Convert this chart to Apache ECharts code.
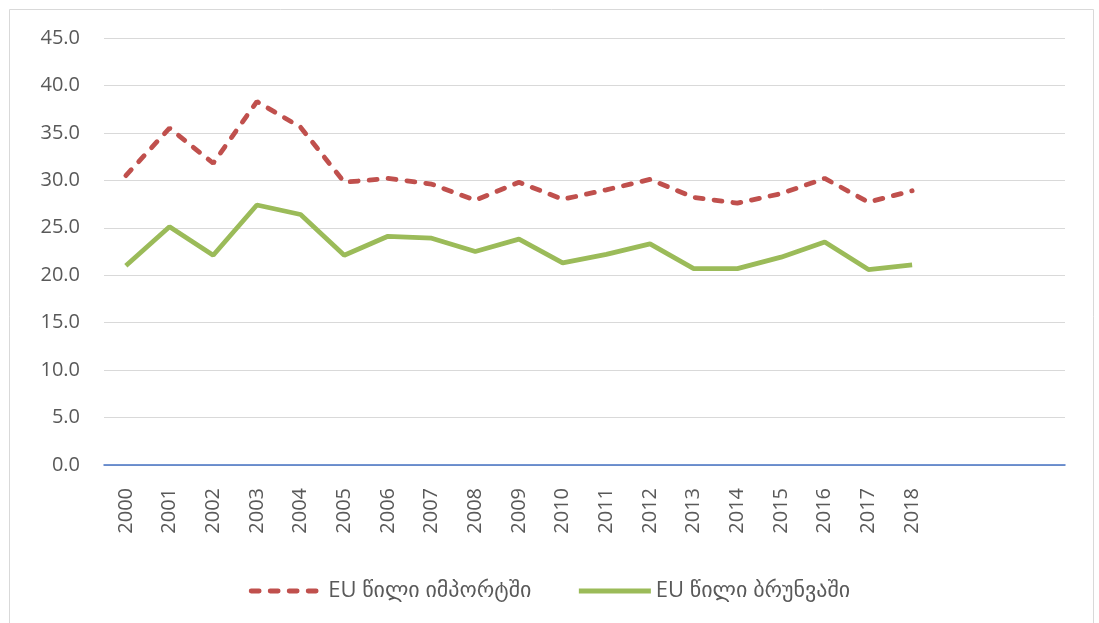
<!DOCTYPE html>
<html>
<head>
<meta charset="utf-8">
<script src="https://cdn.jsdelivr.net/npm/echarts@6/dist/echarts.min.js"></script>
<style>
    html, body { margin: 0; padding: 0; background: #fff; }
    #chart { width: 1099px; height: 623px; }
</style>
</head>
<body>
<div id="chart"></div>
<script>
// years, with three empty slots at the end like the original axis
var years = ['2000', '2001', '2002', '2003', '2004', '2005', '2006', '2007', '2008', '2009',
    '2010', '2011', '2012', '2013', '2014', '2015', '2016', '2017', '2018', '', '', ''];
var importShare = [30.5, 35.5, 31.8, 38.3, 35.6, 29.8, 30.2, 29.6, 27.9, 29.8,
    28.0, 29.0, 30.1, 28.2, 27.6, 28.6, 30.2, 27.7, 28.9];
var exportShare = [21.0, 25.1, 22.1, 27.4, 26.4, 22.1, 24.1, 23.9, 22.5, 23.8,
    21.3, 22.2, 23.3, 20.7, 20.7, 21.9, 23.5, 20.6, 21.1];
var seriesNames = ['EU წილი იმპორტში', 'EU წილი ბრუნვაში'];

var fontFam = '"Open Sans", "DejaVu Sans", sans-serif';

var option = {
    animation: false,
    backgroundColor: '#fff',
    graphic: [{
        type: 'rect',
        shape: { x: 9.5, y: 9.5, width: 1084, height: 640 },
        style: { fill: 'none', stroke: '#d9d9d9', lineWidth: 1 },
        silent: true
    }],
    grid: {
        left: 104,
        right: 34,
        top: 38,
        bottom: 158
    },
    legend: {
        bottom: 16,
        left: 'center',
        itemWidth: 72,
        itemHeight: 12,
        itemGap: 45,
        itemStyle: { opacity: 0 },
        lineStyle: { width: 4.8 },
        textStyle: {
            fontFamily: fontFam,
            fontSize: 22,
            color: '#595959'
        },
        data: seriesNames
    },
    xAxis: {
        type: 'category',
        data: years,
        boundaryGap: true,
        axisLine: {
            lineStyle: { color: '#4472c4', width: 1.5 }
        },
        axisTick: { show: false },
        axisLabel: {
            rotate: 90,
            interval: 0,
            margin: 23,
            fontFamily: fontFam,
            fontSize: 20,
            color: '#595959'
        }
    },
    yAxis: {
        type: 'value',
        min: 0,
        max: 45,
        interval: 5,
        axisLine: { show: false },
        axisTick: { show: false },
        splitLine: {
            lineStyle: { color: '#d9d9d9', width: 1.2 }
        },
        axisLabel: {
            margin: 24,
            fontFamily: fontFam,
            fontSize: 20,
            color: '#595959',
            formatter: function (v) { return v.toFixed(1); }
        }
    },
    series: [
        {
            name: seriesNames[0],
            type: 'line',
            data: importShare,
            symbol: 'none',
            color: '#c0504d',
            lineStyle: {
                color: '#c0504d',
                width: 4.8,
                type: [8, 11],
                cap: 'round'
            }
        }, {
            name: seriesNames[1],
            type: 'line',
            data: exportShare,
            symbol: 'none',
            color: '#9bbb59',
            lineStyle: {
                color: '#9bbb59',
                width: 4.8
            }
        }
    ]
};

var myChart = echarts.init(document.getElementById('chart'));
myChart.setOption(option);
</script>
</body>
</html>
